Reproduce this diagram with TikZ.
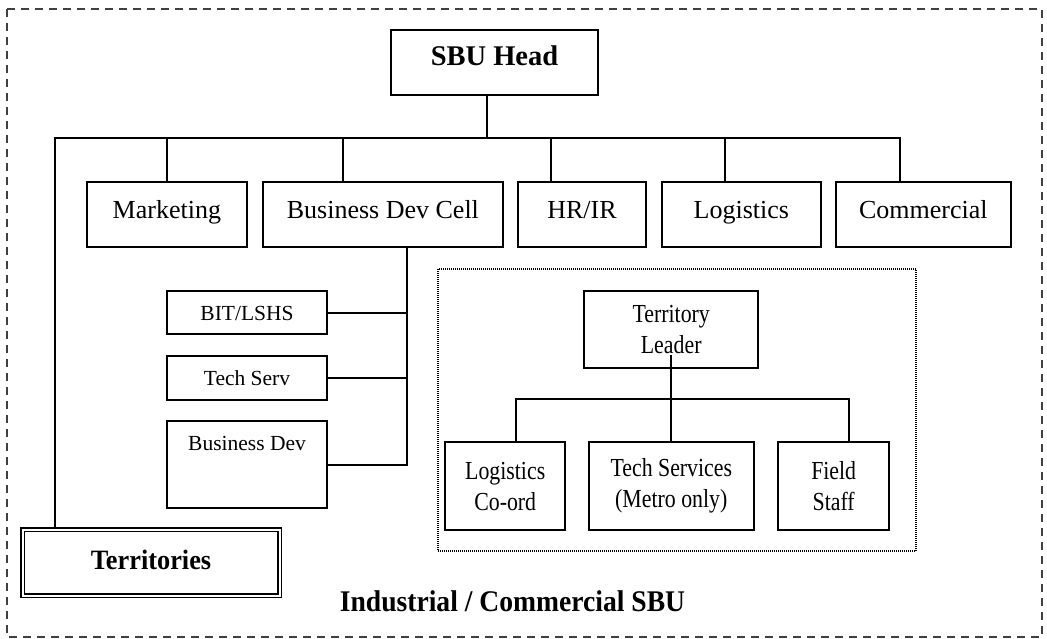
\documentclass[tikz,border=0pt]{standalone}
\usepackage{fontspec}
\usepackage{graphicx}
\setmainfont{Liberation Serif}
% horizontally condensed text
\newcommand\sqz[2][0.84]{\scalebox{#1}[1]{#2}}
\tikzset{
  box/.style={draw, line width=2.1pt, inner sep=0pt, align=center},
  unitbox/.style={box, minimum height=65pt, font=\fontsize{26}{30}\selectfont,
                  text height=18pt, text depth=9pt},
  subbox/.style={box, minimum width=160.6pt, font=\fontsize{21.5}{25}\selectfont,
                 text height=15pt, text depth=0pt},
  cellbox/.style={draw, line width=1.9pt, inner sep=0pt, align=center,
                  font=\fontsize{26}{31}\selectfont},
  link/.style={line width=2pt},
  thinlink/.style={line width=1.7pt},
}
\begin{document}
\begin{tikzpicture}[x=1pt,y=-1pt]
\useasboundingbox (0,0) rectangle (1047,639);

% outer frame of the SBU
\draw[line width=1.3pt, dash pattern=on 8pt off 6pt, black!75] (7,9) rectangle (1042,637);

% head and first level
\node[box, minimum width=207pt, minimum height=65pt,
      font=\bfseries\fontsize{28.5}{32}\selectfont, text height=20pt, text depth=13.6pt]
      (head) at (494.5,62.5) {SBU Head};
\node[unitbox, minimum width=160.3pt] (mkt)  at (166.9,214.5) {Marketing};
\node[unitbox, minimum width=240.3pt] (bdc)  at (382.9,214.5) {Business Dev Cell};
\node[unitbox, minimum width=128pt]   (hr)   at (582,214.5)   {HR/IR};
\node[unitbox, minimum width=159.3pt] (logi) at (741.4,214.5) {Logistics};
\node[unitbox, minimum width=175.3pt] (com)  at (923.4,214.5) {Commercial};

% business development sub-units
\node[subbox, minimum height=43pt]   (bit) at (247,312.5) {BIT/LSHS};
\node[subbox, minimum height=43.7pt] (tsv) at (247,377.8) {Tech Serv};
\node[subbox, minimum height=86.7pt] (bd)  at (247,464.7) {};
\node[anchor=base, font=\fontsize{21.5}{25}\selectfont, inner sep=0pt]
      (bdtext) at ([yshift=-30.4pt]bd.north) {Business Dev};

% territories
\node[draw, double, line width=1.9pt, double distance=2pt, inner sep=0pt,
      minimum width=257pt, minimum height=66pt,
      font=\bfseries\fontsize{28}{32}\selectfont, text height=20pt, text depth=6.4pt]
      (terr) at (151,562.5) {\sqz[0.94]{Territories}};

% territory organisation
\node[draw, black, line width=1.2pt, dash pattern=on 1pt off 1pt, inner sep=0pt,
      minimum width=478pt, minimum height=282pt] (zone) at (677,410) {};
\node[cellbox, minimum width=173.7pt, minimum height=76.7pt] (tl) at (671.2,329.3)
      {\sqz{Territory}\\\sqz{Leader}};
\node[cellbox, minimum width=120.3pt, minimum height=87.7pt] (lc) at (505.2,486.2)
      {\sqz{Logistics}\\\sqz{Co-ord}};
\node[cellbox, minimum width=164.7pt, minimum height=87.7pt] (ts) at (671.3,486.2)
      {\sqz{Tech Services}\\\sqz{(Metro only)}};
\node[cellbox, minimum width=111.3pt, minimum height=87.7pt] (fs) at (833.7,486.2)
      {\sqz{Field}\\\sqz{Staff}};

\node[anchor=base, font=\bfseries\fontsize{30}{34}\selectfont, inner sep=0pt]
      (title) at (512.5,611.7) {\sqz[0.92]{Industrial / Commercial SBU}};

% connectors: head to first level
\coordinate (hub)  at (487,138);
\coordinate (busL) at (55,138);
\coordinate (busR) at (900,138);
\coordinate (dmkt) at (166.7,138);
\coordinate (dbdc) at (342.7,138);
\coordinate (dhr)  at (550.7,138);
\coordinate (dlogi) at (725,138);
\coordinate (dcom) at (900,138);
\draw[link] (head.south -| hub) -- (hub);
\draw[link, line cap=rect] (busL) -- (busR);
\foreach \d/\n in {dmkt/mkt, dbdc/bdc, dhr/hr, dlogi/logi, dcom/com}
  \draw[link] (\d) -- (\d |- \n.north);
\draw[link] (busL) -- (busL |- terr.north);

% connectors: business dev cell
\coordinate (trunk) at (407,464.7);
\draw[link, line cap=rect] (bdc.south -| trunk) -- (trunk);
\foreach \n in {bit, tsv, bd}
  \draw[link] (\n.east) -- (\n.east -| trunk);

% connectors: territory leader
\coordinate (tlstem) at (671.2,355);
\coordinate (tbL) at (515.7,399.3);
\coordinate (tbR) at (849,399.3);
\draw[thinlink] (tlstem) -- (tlstem |- ts.north);
\draw[thinlink, line cap=rect] (tbL) -- (tbR);
\draw[thinlink] (tbL) -- (tbL |- lc.north);
\draw[thinlink] (tbR) -- (tbR |- fs.north);
\end{tikzpicture}
\end{document}
